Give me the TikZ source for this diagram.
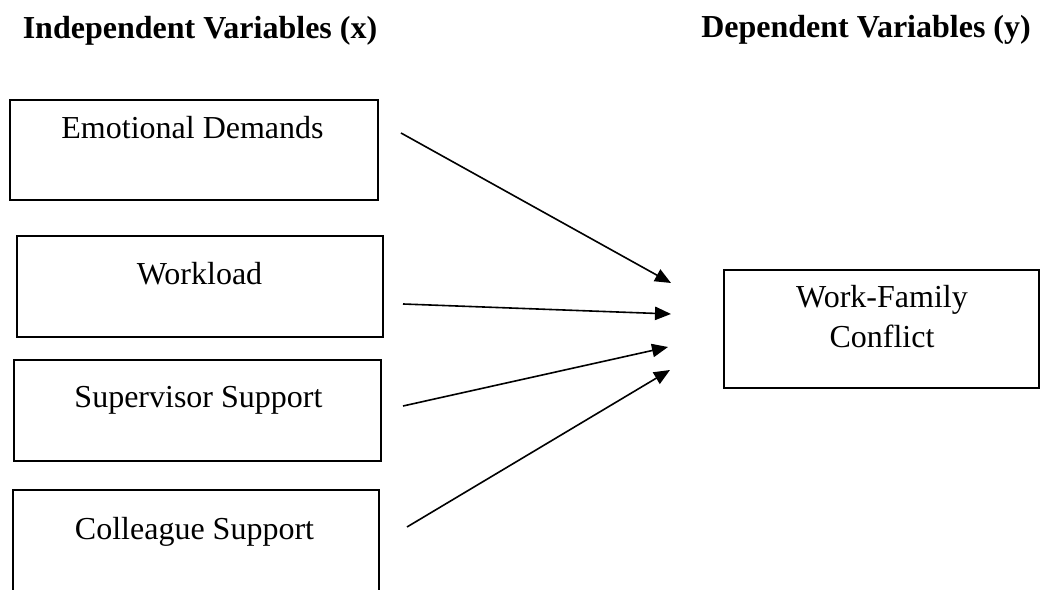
\documentclass[tikz,border=0pt]{standalone}
\usepackage{fontspec}
\setmainfont{Liberation Serif}
\usepackage{tikz}
\usetikzlibrary{arrows.meta}

\begin{document}
\begin{tikzpicture}[x=0.375pt, y=-0.375pt, >={Triangle[length=6pt,width=5pt]},
    every node/.style={font=\fontsize{12pt}{14pt}\selectfont},
    varbox/.style={draw, line width=0.7pt, inner sep=0pt},
    vartext/.style={anchor=base, inner sep=0pt},
    heading/.style={anchor=base, inner sep=0pt, font=\fontsize{12pt}{14pt}\selectfont\bfseries},
    flow/.style={->, line width=0.6pt}]
  \useasboundingbox (0,0) rectangle (1044,590);

  % headings
  \node[heading] (indep) at (200,39) {Independent Variables (x)};
  \node[heading] (dep) at (866,38) {Dependent Variables (y)};

  % independent variables
  \node[varbox, minimum width=138pt, minimum height=37.5pt] (ed) at (194,150) {};
  \node[vartext] (edtxt) at (192.5,139) {Emotional Demands};
  \node[varbox, minimum width=137.3pt, minimum height=37.9pt] (wl) at (200,286.5) {};
  \node[vartext] (wltxt) at (199.5,285) {Workload};
  \node[varbox, minimum width=137.6pt, minimum height=37.8pt] (ss) at (197.5,410.3) {};
  \node[vartext] (sstxt) at (198.5,408) {Supervisor Support};
  \node[varbox, minimum width=137.3pt, minimum height=38.3pt] (cs) at (196,541) {};
  \node[vartext] (cstxt) at (194.5,540) {Colleague Support};

  % dependent variable
  \node[varbox, minimum width=118.1pt, minimum height=44.3pt] (wfc) at (881.5,329) {};
  \node[vartext] (wfctxt1) at (882,308) {Work-Family};
  \node[vartext] (wfctxt2) at (882,348) {Conflict};

  % arrow ends
  \coordinate (ed-out) at (401,133);
  \coordinate (wl-out) at (403,304);
  \coordinate (ss-out) at (403,406);
  \coordinate (cs-out) at (407,527);
  \coordinate (wfc-in1) at (671,283);
  \coordinate (wfc-in2) at (671,314);
  \coordinate (wfc-in3) at (668,347);
  \coordinate (wfc-in4) at (670,370);

  \draw[flow] (ed-out) -- (wfc-in1);
  \draw[flow] (wl-out) -- (wfc-in2);
  \draw[flow] (ss-out) -- (wfc-in3);
  \draw[flow] (cs-out) -- (wfc-in4);
\end{tikzpicture}
\end{document}
